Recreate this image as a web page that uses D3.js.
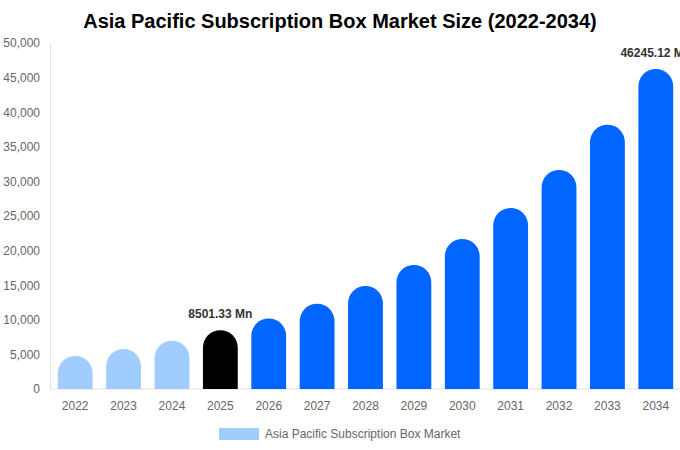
<!DOCTYPE html>
<html>
<head>
<meta charset="utf-8">
<script src="https://cdn.jsdelivr.net/npm/d3@7/dist/d3.min.js"></script>
<style>
  body { margin: 0; background: #fff; }
  svg { font-family: "Liberation Sans", Arial, sans-serif; display: block; }
</style>
</head>
<body>
<svg id="chart"></svg>
<script>
const years = ["2022", "2023", "2024", "2025", "2026", "2027", "2028", "2029", "2030", "2031", "2032", "2033", "2034"]
const values = [4770, 5780, 6980, 8501.33, 10200, 12330, 14900, 17920, 21680, 26160, 31650, 38200, 46245.12]
const yTicks = [0, 5000, 10000, 15000, 20000, 25000, 30000, 35000, 40000, 45000, 50000]
const labelled = ["2025", "2034"]
const seriesName = "Asia Pacific Subscription Box Market"

const width = 680
const height = 450
const margin = { top: 43, right: 0, bottom: 61, left: 51 }

const svg = d3.select("#chart").attr("width", width).attr("height", height)

const x = d3
  .scaleBand()
  .domain(years)
  .range([margin.left, width - margin.right])
  .paddingInner(0.28)
  .paddingOuter(0.14)

const y = d3
  .scaleLinear()
  .domain([0, 50000])
  .range([height - margin.bottom, margin.top])

const colorFor = (yr) => {
  if (+yr < 2025) return "#a0cdfd"
  if (+yr === 2025) return "#000000"
  return "#0066ff"
}

// title
svg
  .append("text")
  .attr("x", width / 2)
  .attr("y", 28)
  .attr("text-anchor", "middle")
  .attr("font-size", 20)
  .attr("font-weight", "bold")
  .attr("fill", "#000")
  .text("Asia Pacific Subscription Box Market Size (2022-2034)")

// axes
const yAxis = svg
  .append("g")
  .attr("transform", "translate(" + (margin.left - 1) + ",0)")
  .call(d3.axisLeft(y).tickValues(yTicks).tickSize(0).tickPadding(10).tickFormat(d3.format(",")))
yAxis.select(".domain").attr("stroke", "#e0e0e0")
yAxis.selectAll("text").attr("fill", "#666").attr("font-size", 12).attr("font-family", "Liberation Sans, Arial, sans-serif")

const xAxis = svg
  .append("g")
  .attr("transform", "translate(0," + y(0) + ")")
  .call(d3.axisBottom(x).tickSize(0).tickPadding(12))
xAxis.select(".domain").attr("stroke", "#e0e0e0").attr("d", "M" + (margin.left - 1) + ",0H" + width)
xAxis.selectAll("text").attr("fill", "#666").attr("font-size", 12).attr("font-family", "Liberation Sans, Arial, sans-serif")

// bars: rounded top, flat bottom
const barPath = (yr, v) => {
  const x0 = x(yr)
  const w = x.bandwidth()
  const r = w / 2
  const top = y(v)
  const base = y(0)
  return (
    "M" + x0 + "," + base +
    "V" + (top + r) +
    "A" + r + "," + r + " 0 0 1 " + (x0 + w) + "," + (top + r) +
    "V" + base + "Z"
  )
}

svg
  .append("g")
  .selectAll("path")
  .data(years)
  .enter()
  .append("path")
  .attr("d", (yr, i) => barPath(yr, values[i]))
  .attr("fill", (yr) => colorFor(yr))

// value labels
svg
  .append("g")
  .selectAll("text")
  .data(years.filter((yr) => labelled.includes(yr)))
  .enter()
  .append("text")
  .attr("x", (yr) => x(yr) + x.bandwidth() / 2)
  .attr("y", (yr) => y(values[years.indexOf(yr)]) - 12)
  .attr("text-anchor", "middle")
  .attr("font-size", 12)
  .attr("font-weight", "bold")
  .attr("fill", "#333")
  .text((yr) => values[years.indexOf(yr)].toFixed(2) + " Mn")

// legend
const legend = svg.append("g").attr("transform", "translate(219,428)")
legend.append("rect").attr("width", 40).attr("height", 12).attr("fill", "#a0cdfd")
legend
  .append("text")
  .attr("x", 46)
  .attr("y", 10)
  .attr("font-size", 12)
  .attr("fill", "#666")
  .text(seriesName)
</script>
</body>
</html>
